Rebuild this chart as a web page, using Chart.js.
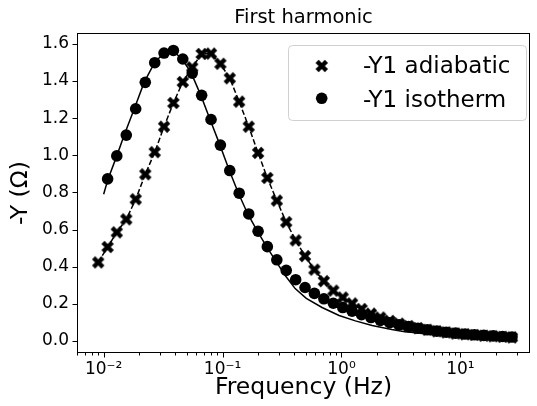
<!DOCTYPE html>
<html>
<head>
<meta charset="utf-8">
<script src="https://cdn.jsdelivr.net/npm/chart.js@4.4.1/dist/chart.umd.min.js"></script>
<style>
    body { margin: 0; background: #fff; }
    canvas { display: block; }
</style>
</head>
<body>
<canvas id="harmonicChart" width="537" height="406"></canvas>
<script>
// measured frequencies (Hz), shared by both series
const freqHz = [0.0090, 0.0108, 0.0129, 0.0155, 0.0186, 0.0224, 0.0269, 0.0322, 0.0386, 0.0463,
    0.0556, 0.0667, 0.0800, 0.0959, 0.115, 0.138, 0.166, 0.199, 0.238, 0.286,
    0.343, 0.412, 0.494, 0.592, 0.711, 0.854, 1.025, 1.229, 1.475, 1.770,
    2.123, 2.547, 3.055, 3.670, 4.403, 5.283, 6.338, 7.603, 9.120, 10.94,
    13.12, 15.74, 18.89, 22.66, 27.18];

const adiabaticY = [0.423, 0.506, 0.585, 0.655, 0.763, 0.898, 1.017, 1.154, 1.282, 1.395,
    1.474, 1.546, 1.548, 1.493, 1.415, 1.289, 1.154, 1.013, 0.878, 0.756,
    0.640, 0.542, 0.457, 0.384, 0.322, 0.271, 0.234, 0.202, 0.172, 0.147,
    0.126, 0.108, 0.093, 0.080, 0.069, 0.060, 0.052, 0.046, 0.040, 0.036,
    0.032, 0.028, 0.025, 0.022, 0.019];

// isotherm starts at the second frequency
const isothermY = [0.873, 0.997, 1.109, 1.251, 1.393, 1.499, 1.551, 1.565, 1.519,
    1.443, 1.323, 1.193, 1.055, 0.918, 0.796, 0.684, 0.591, 0.508, 0.437,
    0.380, 0.330, 0.288, 0.256, 0.227, 0.203, 0.180, 0.160, 0.142, 0.126,
    0.111, 0.098, 0.087, 0.077, 0.068, 0.060, 0.053, 0.047, 0.042, 0.037,
    0.033, 0.030, 0.027, 0.024, 0.021];

// solid model curve through the isotherm points
const isoFitHz = [0.0100, 0.0109, 0.0129, 0.0149, 0.0181, 0.0219, 0.0268, 0.0320, 0.0378, 0.0457,
    0.0546, 0.0657, 0.0785, 0.0951, 0.114, 0.136, 0.163, 0.196, 0.236, 0.284,
    0.339, 0.408, 0.506, 0.687, 0.955, 1.31, 1.81, 2.65, 3.41, 5.0,
    8.86, 15.7, 27.3];
const isoFitY = [0.79, 0.873, 0.997, 1.109, 1.251, 1.393, 1.499, 1.551, 1.565, 1.519,
    1.443, 1.323, 1.193, 1.055, 0.918, 0.796, 0.684, 0.591, 0.505, 0.425,
    0.350, 0.282, 0.229, 0.180, 0.137, 0.108, 0.083, 0.062, 0.050, 0.040,
    0.030, 0.024, 0.020];

const xMajorTicks = [0.01, 0.1, 1, 10];
const xMajorLabels = ['10⁻²', '10⁻¹', '10⁰', '10¹'];
const xMinorTicks = [0.006, 0.007, 0.008, 0.009,
    0.02, 0.03, 0.04, 0.05, 0.06, 0.07, 0.08, 0.09,
    0.2, 0.3, 0.4, 0.5, 0.6, 0.7, 0.8, 0.9,
    2, 3, 4, 5, 6, 7, 8, 9, 20, 30];
const yTicks = [0, 0.2, 0.4, 0.6, 0.8, 1.0, 1.2, 1.4, 1.6];

const chartTitle = 'First harmonic';
const FONT = 'DejaVu Sans';
Chart.defaults.font.family = FONT;
Chart.defaults.color = '#000';

// filled "X" marker like matplotlib's
function makeXMarker(size, arm) {
    const c = document.createElement('canvas');
    c.width = c.height = size;
    const g = c.getContext('2d');
    const w = arm / 3;
    g.translate(size / 2, size / 2);
    g.rotate(Math.PI / 4);
    g.beginPath();
    g.moveTo(-w, -arm); g.lineTo(w, -arm); g.lineTo(w, -w); g.lineTo(arm, -w);
    g.lineTo(arm, w); g.lineTo(w, w); g.lineTo(w, arm); g.lineTo(-w, arm);
    g.lineTo(-w, w); g.lineTo(-arm, w); g.lineTo(-arm, -w); g.lineTo(-w, -w);
    g.closePath();
    g.fillStyle = '#000';
    g.fill();
    return c;
}
const xMarker = makeXMarker(14, 6.6);

// box, tick marks, title and legend drawn the matplotlib way
const framePlugin = {
    id: 'frame',
    afterDraw(chart) {
        const { ctx, chartArea: a, scales } = chart;
        ctx.save();
        ctx.strokeStyle = '#000';
        ctx.lineWidth = 1;
        ctx.strokeRect(a.left + 0.5, a.top + 0.5, a.right - a.left - 1, a.bottom - a.top - 1);

        ctx.beginPath();
        scales.x.ticks.forEach(t => {
            const px = Math.round(scales.x.getPixelForValue(t.value)) + 0.5;
            const len = xMajorTicks.includes(t.value) ? 4.5 : 2.5;
            ctx.moveTo(px, a.bottom);
            ctx.lineTo(px, a.bottom + len);
        });
        scales.y.ticks.forEach(t => {
            const py = Math.round(scales.y.getPixelForValue(t.value)) + 0.5;
            ctx.moveTo(a.left, py);
            ctx.lineTo(a.left - 4.5, py);
        });
        ctx.stroke();

        // title centred over the axes
        ctx.fillStyle = '#000';
        ctx.font = '19.5px "' + FONT + '"';
        ctx.textAlign = 'center';
        ctx.textBaseline = 'alphabetic';
        ctx.fillText(chartTitle, (a.left + a.right) / 2, 23);

        // legend
        const lx = 288.5, ly = 45.5, lw = 238, lh = 75;
        ctx.beginPath();
        ctx.roundRect(lx, ly, lw, lh, 4);
        ctx.fillStyle = 'rgba(255,255,255,0.8)';
        ctx.fill();
        ctx.strokeStyle = '#d0d0d0';
        ctx.stroke();

        const sets = chart.data.datasets;
        ctx.fillStyle = '#000';
        ctx.drawImage(xMarker, 321.7 - 7, 66 - 7);
        ctx.beginPath();
        ctx.arc(321.7, 98.3, 5.8, 0, Math.PI * 2);
        ctx.fill();
        ctx.font = '23px "' + FONT + '"';
        ctx.textAlign = 'left';
        ctx.fillText(sets[0].label, 363, 73.3);
        ctx.fillText(sets[1].label, 363, 106.7);
        ctx.restore();
    }
};

const ctx = document.getElementById('harmonicChart').getContext('2d');
new Chart(ctx, {
    type: 'scatter',
    data: {
        datasets: [
            {
                label: '-Y1 adiabatic',
                data: freqHz.map((f, i) => ({ x: f, y: adiabaticY[i] })),
                pointStyle: xMarker,
                pointRadius: 7,
                backgroundColor: '#000',
                borderWidth: 0
            },
            {
                label: '-Y1 isotherm',
                data: isothermY.map((y, i) => ({ x: freqHz[i + 1], y })),
                pointStyle: 'circle',
                pointRadius: 5.8,
                backgroundColor: '#000',
                borderWidth: 0
            },
            {
                label: 'adiabatic fit',
                data: freqHz.map((f, i) => ({ x: f, y: adiabaticY[i] })),
                showLine: true,
                pointRadius: 0,
                borderColor: '#000',
                borderWidth: 1.5,
                borderDash: [5.5, 2.4]
            },
            {
                label: 'isotherm fit',
                data: isoFitHz.map((f, i) => ({ x: f, y: isoFitY[i] })),
                showLine: true,
                pointRadius: 0,
                borderColor: '#000',
                borderWidth: 1.5
            }
        ]
    },
    options: {
        responsive: false,
        devicePixelRatio: 1,
        animation: false,
        layout: { padding: { left: 0, right: 0, top: 33, bottom: 0 } },
        plugins: {
            legend: { display: false },
            tooltip: { enabled: false },
            title: { display: false }
        },
        scales: {
            x: {
                type: 'logarithmic',
                min: 0.00597,
                max: 38.5,
                afterBuildTicks: (scale) => {
                    scale.ticks = xMinorTicks.concat(xMajorTicks).sort((a, b) => a - b).map(v => ({ value: v }));
                },
                afterFit: (scale) => { scale.height = 53; },
                grid: { display: false, drawTicks: false },
                border: { display: false },
                ticks: {
                    autoSkip: false,
                    maxRotation: 0,
                    padding: 6,
                    color: '#000',
                    font: { size: 17 },
                    callback: (value) => {
                        const i = xMajorTicks.indexOf(value);
                        return i >= 0 ? xMajorLabels[i] : '';
                    }
                },
                title: {
                    display: true,
                    text: 'Frequency (Hz)',
                    color: '#000',
                    font: { size: 23.5 },
                    padding: { top: 0, bottom: 4 }
                }
            },
            y: {
                min: -0.065,
                max: 1.659,
                afterBuildTicks: (scale) => {
                    scale.ticks = yTicks.map(v => ({ value: v }));
                },
                afterFit: (scale) => { scale.width = 77; },
                grid: { display: false, drawTicks: false },
                border: { display: false },
                ticks: {
                    padding: 8,
                    color: '#000',
                    font: { size: 17 },
                    callback: (value) => value.toFixed(1)
                },
                title: {
                    display: true,
                    text: '-Y (Ω)',
                    color: '#000',
                    font: { size: 23.5 },
                    padding: { top: 7, bottom: 0 }
                }
            }
        }
    },
    plugins: [framePlugin]
});
</script>
</body>
</html>
